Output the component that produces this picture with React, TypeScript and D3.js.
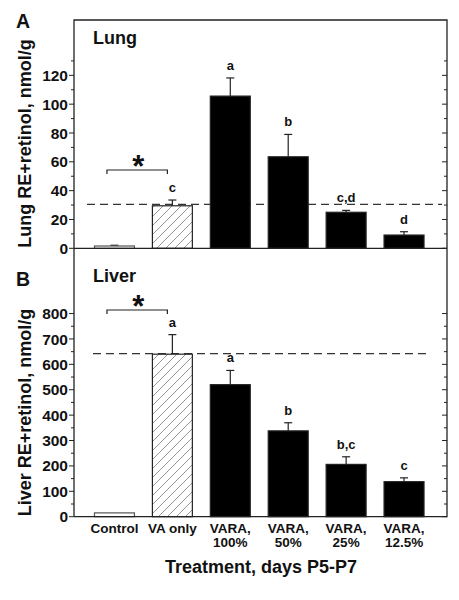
import React from "react";
import * as d3 from "d3";

const categories = ["Control", "VA only", "VARA, 100%", "VARA, 50%", "VARA, 25%", "VARA, 12.5%"];
const tickLabelLines = [["Control"], ["VA only"], ["VARA,", "100%"], ["VARA,", "50%"], ["VARA,", "25%"], ["VARA,", "12.5%"]];
const barStyle = ["open", "hatch", "solid", "solid", "solid", "solid"];

const lungMean = [1.6, 29.5, 105.6, 63.5, 25, 9.2];
const lungSem = [0.5, 4, 12.6, 15.5, 1.3, 2.3];
const lungLetters = ["", "c", "a", "b", "c,d", "d"];
const lungRef = 30.5;
const lungTicksMajor = [0, 20, 40, 60, 80, 100, 120];
const lungTicksMinor = [10, 30, 50, 70, 90, 110, 130];

const liverMean = [15, 640, 520, 338, 206, 138];
const liverSem = [0, 77, 56, 32, 30, 15];
const liverLetters = ["", "a", "a", "b", "b,c", "c"];
const liverRef = 642;
const liverTicksMajor = [0, 100, 200, 300, 400, 500, 600, 700, 800];
const liverTicksMinor = [50, 150, 250, 350, 450, 550, 650, 750];

const FONT = "'Liberation Sans', Arial, Helvetica, sans-serif";
const L = 74, R = 447, TOP = 20, MID = 248.3, BOT = 516.7;

function Panel({ y, mean, sem, letters, refVal, major, minor, tag, name, ylabel, ylabelY, refX, bracketY, x }) {
  const frame = "#222";
  return (
    <g>
      {major.map((t) => (
        <g key={"M" + t}>
          <line x1={L - 5} x2={L} y1={y(t)} y2={y(t)} stroke={frame} strokeWidth={1} />
          <line x1={R - 5} x2={R} y1={y(t)} y2={y(t)} stroke={frame} strokeWidth={1} />
          <text x={L - 6} y={y(t)} dy="0.36em" textAnchor="end" fontSize={15.5} fontWeight="bold" fontFamily={FONT} fill="#111">{t}</text>
        </g>
      ))}
      {minor.map((t) => (
        <g key={"m" + t}>
          <line x1={L - 3} x2={L} y1={y(t)} y2={y(t)} stroke={frame} strokeWidth={1} />
          <line x1={R - 3} x2={R} y1={y(t)} y2={y(t)} stroke={frame} strokeWidth={1} />
        </g>
      ))}
      <line x1={refX[0]} x2={refX[1]} y1={y(refVal)} y2={y(refVal)} stroke="#333" strokeWidth={1.3} strokeDasharray="8,5" />
      {categories.map((c, i) => {
        const bx = x(c);
        const bw = x.bandwidth();
        const top = y(mean[i]);
        const h = y(0) - top;
        const cx = bx + bw / 2;
        const et = y(mean[i] + sem[i]);
        const st = barStyle[i];
        return (
          <g key={c}>
            {sem[i] > 0 && (
              <g>
                <line x1={cx} x2={cx} y1={top} y2={et} stroke="#222" strokeWidth={1.2} />
                <line x1={cx - 4} x2={cx + 4} y1={et} y2={et} stroke="#222" strokeWidth={1.2} />
              </g>
            )}
            <rect x={bx} y={top} width={bw} height={h}
              fill={st === "solid" ? "#000" : st === "hatch" ? "url(#hatch)" : "#fff"}
              stroke={st === "open" ? "#555" : "#222"} strokeWidth={1.2} />
            {letters[i] && (
              <text x={cx} y={et - 8} textAnchor="middle" fontSize={13} fontWeight="bold" fontFamily={FONT} fill="#111">{letters[i]}</text>
            )}
          </g>
        );
      })}
      {(() => {
        const x1 = x(categories[0]) + x.bandwidth() / 2 - 7.5;
        const x2 = x(categories[1]) + x.bandwidth() / 2 - 5;
        return (
          <g>
            <path d={`M${x1},${bracketY + 4}V${bracketY}H${x2}V${bracketY + 4}`} fill="none" stroke="#222" strokeWidth={1.2} />
            <text x={(x1 + x2) / 2 + 1} y={bracketY + 7} textAnchor="middle" fontSize={31} fontWeight="bold" fontFamily={FONT} fill="#111">*</text>
          </g>
        );
      })()}
      <text x={L + 19} y={tag.nameY} fontSize={18} fontWeight="bold" fontFamily={FONT} fill="#111">{name}</text>
      <text x={16} y={tag.y} fontSize={19.5} fontWeight="bold" fontFamily={FONT} fill="#111">{tag.t}</text>
      <text transform={`translate(31,${ylabelY}) rotate(-90)`} textAnchor="middle" fontSize={18} fontWeight="bold" fontFamily={FONT} fill="#111">{ylabel}</text>
    </g>
  );
}

export default function App() {
  const x = d3.scaleBand().domain(categories).range([85.5, 433]).paddingInner(0.31).paddingOuter(0.155);
  const yLung = d3.scaleLinear().domain([0, 158.4]).range([MID, TOP]);
  const yLiver = d3.scaleLinear().domain([0, 1057]).range([BOT, MID]);
  return (
    <svg width={459} height={600} style={{ position: "absolute", left: 0, top: 0, background: "#fff" }}>
      <defs>
        <pattern id="hatch" patternUnits="userSpaceOnUse" width={9} height={9}>
          <rect width={9} height={9} fill="#fff" />
          <path d="M0,9L9,0M-2,2L2,-2M7,11L11,7" stroke="#8a8a8a" strokeWidth={0.9} />
        </pattern>
      </defs>
      <rect x={0} y={0} width={459} height={600} fill="#fff" />
      <Panel y={yLung} x={x} mean={lungMean} sem={lungSem} letters={lungLetters} refVal={lungRef}
        major={lungTicksMajor} minor={lungTicksMinor} tag={{ t: "A", y: 28, nameY: 43.5 }} name="Lung"
        ylabel="Lung RE+retinol, nmol/g" ylabelY={143.5} refX={[87, 442]} bracketY={170} />
      <Panel y={yLiver} x={x} mean={liverMean} sem={liverSem} letters={liverLetters} refVal={liverRef}
        major={liverTicksMajor} minor={liverTicksMinor} tag={{ t: "B", y: 285.5, nameY: 282 }} name="Liver"
        ylabel="Liver RE+retinol, nmol/g" ylabelY={412.5} refX={[93, 431]} bracketY={310} />
      <path d={`M${L},${BOT}V${TOP}H${R}V${BOT}H${L}`} fill="none" stroke="#222" strokeWidth={1.3} />
      <line x1={L} x2={R} y1={MID} y2={MID} stroke="#222" strokeWidth={1.3} />
      {categories.map((c, i) => (
        <text key={c} x={x(c) + x.bandwidth() / 2} y={533} textAnchor="middle" fontSize={13.5} fontWeight="bold" fontFamily={FONT} fill="#111">
          {tickLabelLines[i].map((ln, j) => (
            <tspan key={j} x={x(c) + x.bandwidth() / 2} dy={j === 0 ? 0 : 14}>{ln}</tspan>
          ))}
        </text>
      ))}
      <text x={261} y={573} textAnchor="middle" fontSize={18} fontWeight="bold" fontFamily={FONT} fill="#111">Treatment, days P5-P7</text>
    </svg>
  );
}
